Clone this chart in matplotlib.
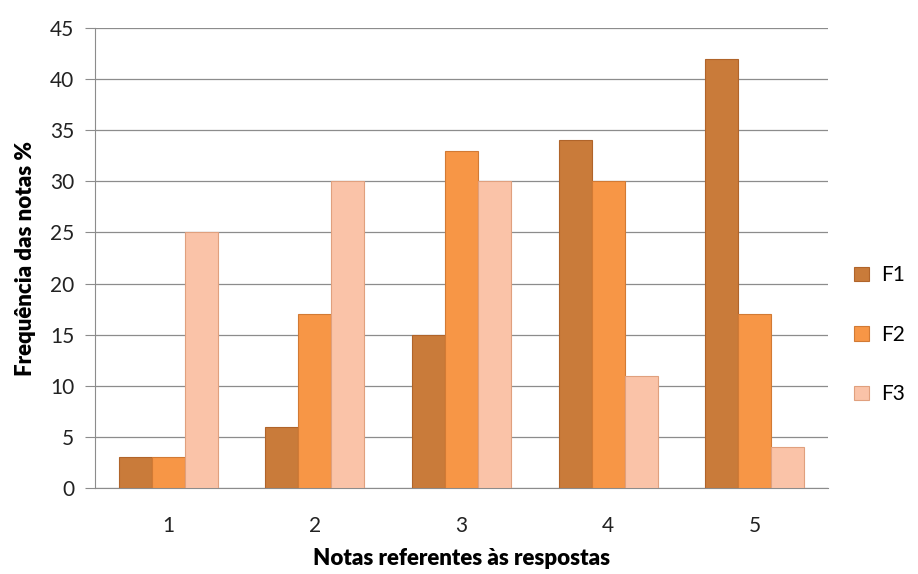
import numpy as np
import matplotlib
matplotlib.use("Agg")
from matplotlib import pyplot as plt

plt.rcParams["font.family"] = ["Lato", "DejaVu Sans"]

notas = ["1", "2", "3", "4", "5"]
f1 = [3, 6, 15, 34, 42]
f2 = [3, 17, 33, 30, 17]
f3 = [25, 30, 30, 11, 4]
series = ["F1", "F2", "F3"]

colors = ["#C97B3A", "#F79646", "#FAC3A8"]
edges = ["#B0642A", "#D27A34", "#E0A07E"]

fig = plt.figure(figsize=(9.18, 5.74), dpi=100)
ax = fig.add_axes([0.1035, 0.1498, 0.7985, 0.8013])

x = np.arange(len(notas))
w = 0.225
for i, (vals, name) in enumerate(zip([f1, f2, f3], series)):
    ax.bar(x + (i - 1) * w, vals, w, color=colors[i], edgecolor=edges[i],
           linewidth=0.8, label=name, zorder=3)

ax.set_xlim(-0.5, 4.5)
ax.set_ylim(0, 45)
ax.set_yticks(range(0, 46, 5))
ax.set_xticks(x)
ax.set_xticklabels(notas)
ax.grid(True, axis="y", color="#8c8c8c", linewidth=0.9, zorder=0)
for s in ["top", "right"]:
    ax.spines[s].set_visible(False)
ax.spines["left"].set_color("#8c8c8c")
ax.spines["bottom"].set_color("#8c8c8c")
ax.tick_params(axis="y", length=7, color="#8c8c8c", labelsize=15, pad=8, labelcolor="#222222")
ax.tick_params(axis="x", length=0, labelsize=15, pad=20, labelcolor="#222222")

ax.set_xlabel("Notas referentes às respostas", fontsize=16, fontweight="heavy", labelpad=9)
ax.set_ylabel("Frequência das notas %", fontsize=16, fontweight="heavy", labelpad=10)

ax.legend(loc="center left", bbox_to_anchor=(1.01, 0.333), frameon=False,
          fontsize=15, handlelength=0.7, handleheight=0.7, labelspacing=1.9,
          handletextpad=0.6)

plt.savefig("out.png")
plt.close()
